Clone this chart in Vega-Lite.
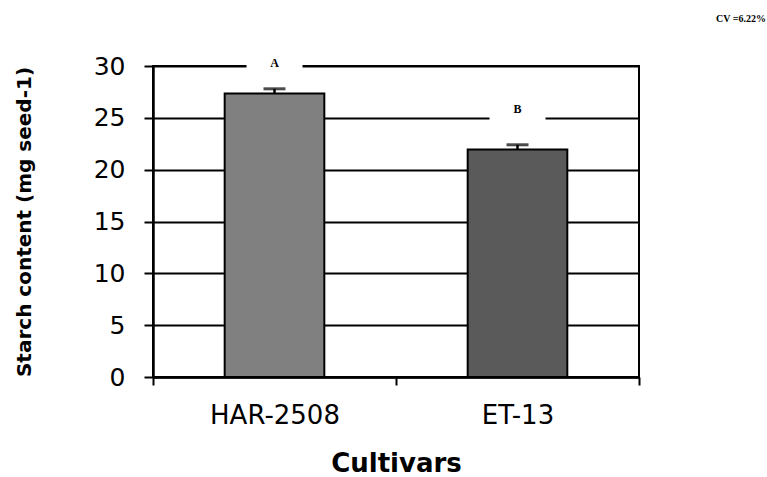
{
  "$schema": "https://vega.github.io/schema/vega-lite/v6.json",
  "autosize": "none",
  "width": 486,
  "height": 311,
  "padding": {"left": 153, "top": 66, "right": 128, "bottom": 100},
  "background": "white",
  "title": {
    "text": "CV =6.22%",
    "anchor": "end",
    "frame": "group",
    "dx": 127,
    "offset": 30,
    "font": "Liberation Serif",
    "fontSize": 10,
    "fontWeight": "bold",
    "color": "black"
  },
  "config": {
    "view": {"stroke": "black", "strokeWidth": 2},
    "axis": {
      "domainColor": "black",
      "domainWidth": 2.5,
      "tickColor": "black",
      "tickWidth": 2,
      "labelColor": "black",
      "titleColor": "black",
      "labelFont": "DejaVu Sans",
      "titleFont": "DejaVu Sans"
    }
  },
  "data": {
    "values": [
      {"cultivar": "HAR-2508", "starch": 27.35, "upper": 27.8, "letter": "A", "gap_y": 30, "letter_y": 30.3},
      {"cultivar": "ET-13", "starch": 21.95, "upper": 22.4, "letter": "B", "gap_y": 25, "letter_y": 25.9}
    ]
  },
  "encoding": {
    "x": {
      "field": "cultivar",
      "type": "nominal",
      "sort": ["HAR-2508", "ET-13"],
      "scale": {"paddingInner": 0, "paddingOuter": 0},
      "axis": {
        "title": "Cultivars",
        "labelAngle": 0,
        "labelFontSize": 26,
        "labelPadding": 17,
        "tickBand": "extent",
        "tickSize": 8,
        "titleFontSize": 26,
        "titleFontWeight": "bold",
        "titlePadding": 22
      }
    }
  },
  "layer": [
    {
      "mark": {"type": "bar", "width": {"band": 0.41}, "stroke": "black", "strokeWidth": 2},
      "encoding": {
        "y": {
          "field": "starch",
          "type": "quantitative",
          "scale": {"domain": [0, 30]},
          "axis": {
            "title": "Starch content (mg seed-1)",
            "values": [0, 5, 10, 15, 20, 25, 30],
            "grid": true,
            "gridColor": "black",
            "gridWidth": 1.8,
            "gridOpacity": 1,
            "tickSize": 9,
            "labelFontSize": 25,
            "labelPadding": 19,
            "titleFontSize": 20,
            "titleFontWeight": "bold",
            "titlePadding": 59
          }
        },
        "color": {
          "field": "cultivar",
          "type": "nominal",
          "scale": {"domain": ["HAR-2508", "ET-13"], "range": ["#808080", "#5a5a5a"]},
          "legend": null
        }
      }
    },
    {
      "mark": {"type": "rule", "color": "black", "strokeWidth": 2.5},
      "encoding": {
        "y": {"field": "starch", "type": "quantitative"},
        "y2": {"field": "upper"}
      }
    },
    {
      "mark": {"type": "tick", "color": "black", "size": 22, "thickness": 3, "orient": "horizontal"},
      "encoding": {
        "y": {"field": "upper", "type": "quantitative"}
      }
    },
    {
      "mark": {"type": "tick", "color": "white", "size": 56, "thickness": 7, "orient": "horizontal", "opacity": 1},
      "encoding": {
        "y": {"field": "gap_y", "type": "quantitative"}
      }
    },
    {
      "mark": {"type": "text", "font": "Liberation Serif", "fontSize": 12, "fontWeight": "bold", "color": "black", "baseline": "middle"},
      "encoding": {
        "y": {"field": "letter_y", "type": "quantitative"},
        "text": {"field": "letter"}
      }
    }
  ]
}
